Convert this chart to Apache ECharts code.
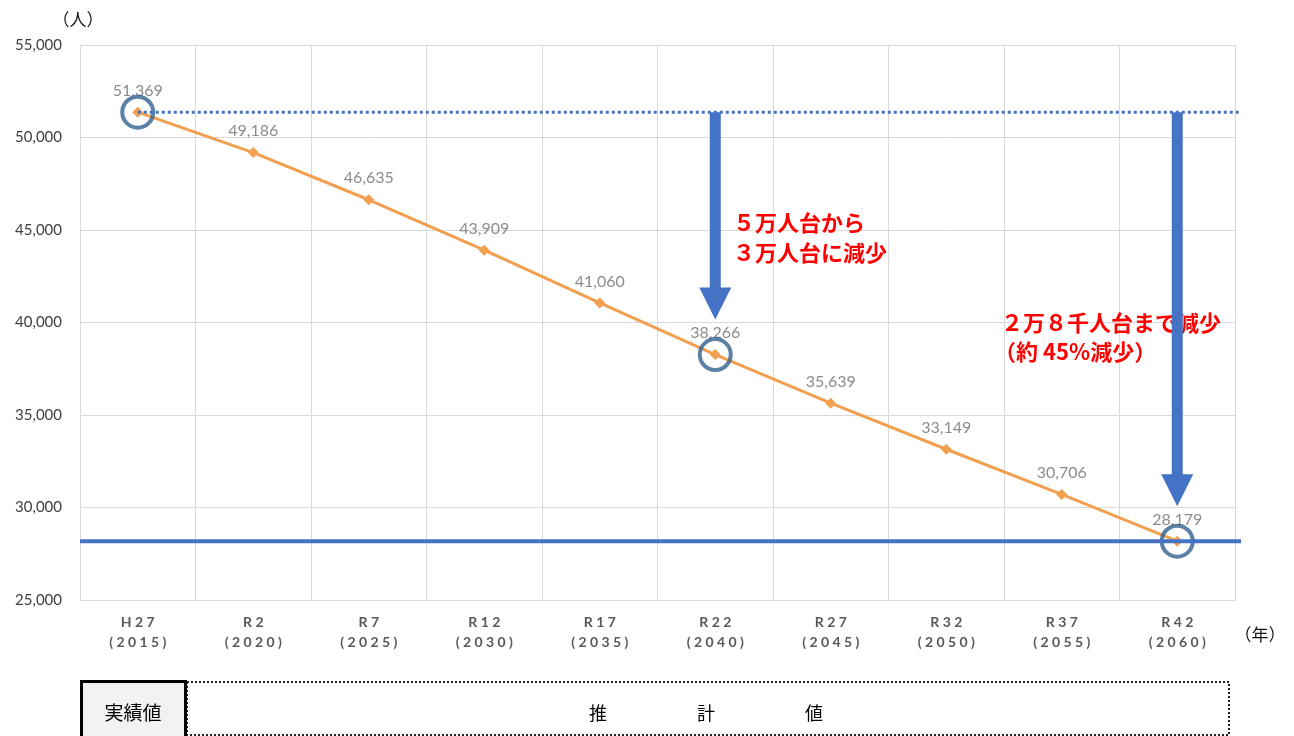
<!DOCTYPE html>
<html>
<head>
<meta charset="utf-8">
<script src="https://cdn.jsdelivr.net/npm/echarts@6/dist/echarts.min.js"></script>
<style>
  html, body { margin: 0; padding: 0; background: #ffffff; }
  #chart { width: 1294px; height: 736px; }
</style>
</head>
<body>
<div id="chart"></div>
<script>
// Projected population by period
const eraLabels = ['H27', 'R2', 'R7', 'R12', 'R17', 'R22', 'R27', 'R32', 'R37', 'R42'];
const yearLabels = ['2015', '2020', '2025', '2030', '2035', '2040', '2045', '2050', '2055', '2060'];
const population = [51369, 49186, 46635, 43909, 41060, 38266, 35639, 33149, 30706, 28179];
// Points singled out with a ring: start, R22 and final period
const highlightIdx = [0, 5, 9];
const yMin = 25000;
const yMax = 55000;
const yStep = 5000;

const categories = eraLabels.map((e, i) => e + '\n(' + yearLabels[i] + ')');
const spaced = s => s.split('\n').map(line => line.split('').join(' ')).join('\n');
const fmt = v => Number(v).toLocaleString('en-US');

const JP = '"Noto Sans CJK JP", "Noto Sans", sans-serif';
const NUM = 'Lato, "Noto Sans", sans-serif';
const BLUE = '#4472C4';
const ORANGE = '#F2A04F';
const RING = '#32618F';

const chart = echarts.init(document.getElementById('chart'), null, { renderer: 'canvas' });

chart.setOption({
  animation: false,
  backgroundColor: '#ffffff',
  grid: { left: 80, right: 59, top: 45, bottom: 136, containLabel: false },
  xAxis: {
    type: 'category',
    data: categories,
    boundaryGap: true,
    axisLine: { show: true, lineStyle: { color: '#d9d9d9', width: 1 } },
    axisTick: { show: false },
    splitLine: { show: true, lineStyle: { color: '#d9d9d9', width: 1 } },
    axisLabel: {
      color: '#595959', fontFamily: NUM, fontWeight: 'bold', fontSize: 14,
      lineHeight: 20, margin: 12, formatter: v => spaced(v)
    }
  },
  yAxis: {
    type: 'value',
    min: yMin, max: yMax, interval: yStep,
    axisLine: { show: false },
    axisTick: { show: false },
    splitLine: { show: true, lineStyle: { color: '#d9d9d9', width: 1 } },
    axisLabel: { color: '#404040', fontFamily: NUM, fontSize: 15, margin: 18, formatter: v => fmt(v) }
  },
  series: [
    {
      type: 'line',
      data: population,
      symbol: 'diamond',
      symbolSize: 11,
      lineStyle: { color: ORANGE, width: 3 },
      itemStyle: { color: ORANGE },
      label: {
        show: true, position: 'top', distance: 8,
        color: '#8c8c8c', fontFamily: NUM, fontSize: 16,
        formatter: p => fmt(p.value)
      },
      z: 2
    },
    {
      type: 'scatter',
      data: highlightIdx.map(i => [i, population[i]]),
      symbol: 'circle',
      symbolSize: 31,
      itemStyle: { color: 'rgba(0,0,0,0)', borderColor: RING, borderWidth: 4 },
      silent: true,
      z: 3
    }
  ]
});

// Overlay: reference lines, arrows, annotations and the bottom legend boxes
const toPx = (i, v) => chart.convertToPixel({ gridIndex: 0 }, [i, v]);
const rect = chart.getModel().getComponent('grid', 0).coordinateSystem.getRect();
const startPt = toPx(0, population[0]);
const lastIdx = population.length - 1;
const endPt = toPx(lastIdx, population[lastIdx]);

function arrow(idx) {
  const x = toPx(idx, population[idx])[0];
  const yTop = startPt[1];
  const yTip = toPx(idx, population[idx])[1] - 35;
  const shaft = 5.5, head = 16, headH = 32;
  return {
    type: 'polygon',
    z: 20,
    shape: {
      points: [
        [x - shaft, yTop], [x + shaft, yTop], [x + shaft, yTip - headH],
        [x + head, yTip - headH], [x, yTip], [x - head, yTip - headH],
        [x - shaft, yTip - headH]
      ]
    },
    style: { fill: BLUE }
  };
}

const redText = (text, x, y) => ({
  type: 'text', x, y, z: 15,
  style: { text, fill: '#ff0000', font: 'bold 22px ' + JP, textVerticalAlign: 'middle' }
});

chart.setOption({
  graphic: [
    {
      type: 'line', z: 10,
      shape: { x1: startPt[0], y1: startPt[1], x2: rect.x + rect.width + 5, y2: startPt[1] },
      style: { stroke: BLUE, lineWidth: 3, lineDash: [3, 3] }
    },
    {
      type: 'line', z: 10,
      shape: { x1: rect.x, y1: endPt[1], x2: rect.x + rect.width + 6, y2: endPt[1] },
      style: { stroke: BLUE, lineWidth: 4 }
    },
    redText('５万人台から', 733, 223),
    redText('３万人台に減少', 733, 253),
    redText('２万８千人台まで減少', 1001, 323),
    redText('（約 45%減少）', 994, 352),
    arrow(5),
    arrow(lastIdx),
    {
      type: 'text', x: 78, y: 20,
      style: { text: '（人）', fill: '#111', font: '17px ' + JP, textAlign: 'center', textVerticalAlign: 'middle' }
    },
    {
      type: 'text', x: 1260, y: 635,
      style: { text: '（年）', fill: '#111', font: '17px ' + JP, textAlign: 'center', textVerticalAlign: 'middle' }
    },
    {
      type: 'rect', z: 5,
      shape: { x: 81.5, y: 681.5, width: 104, height: 60 },
      style: { fill: '#f2f2f2', stroke: '#000', lineWidth: 3 }
    },
    {
      type: 'text', x: 133, y: 713, z: 6,
      style: { text: '実績値', fill: '#000', font: '19px ' + JP, textAlign: 'center', textVerticalAlign: 'middle' }
    },
    {
      type: 'rect', z: 4,
      shape: { x: 187, y: 682, width: 1042, height: 53 },
      style: { fill: 'none', stroke: '#222', lineWidth: 2, lineDash: [2, 2] }
    },
    {
      type: 'text', x: 706, y: 713, z: 6,
      style: { text: '推　　　　　計　　　　　値', fill: '#000', font: '18px ' + JP, textAlign: 'center', textVerticalAlign: 'middle' }
    }
  ]
});
</script>
</body>
</html>
